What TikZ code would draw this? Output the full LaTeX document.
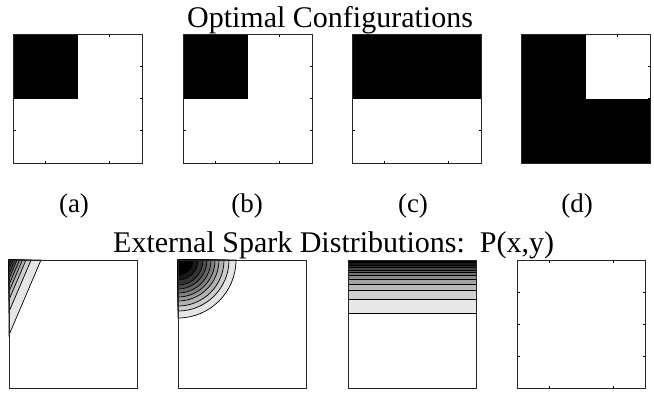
\documentclass[tikz,border=0pt]{standalone}
\usepackage{fontspec}
\setmainfont{Liberation Serif}

% small inward ticks on a square plot frame: x, y, size
\newcommand{\boxticks}[3]{%
  \foreach \f in {0.25,0.75} {
    \draw[boxtick] (#1+\f*#3,#2) -- +(0,2.5);
    \draw[boxtick] (#1+\f*#3,#2+#3) -- +(0,-2.5);
  }
  \foreach \f in {0.25,0.5,0.75} {
    \draw[boxtick] (#1,#2+\f*#3) -- +(2.5,0);
    \draw[boxtick] (#1+#3,#2+\f*#3) -- +(-2.5,0);
  }}

\begin{document}
\begin{tikzpicture}[x=1pt,y=-1pt,
  plotframe/.style={draw=black!85,line width=1pt},
  boxtick/.style={line width=0.6pt},
  isoline/.style={line width=0.7pt},
  headtext/.style={font=\fontsize{30}{32}\selectfont,anchor=base,inner sep=0pt},
  tagtext/.style={font=\fontsize{27}{29}\selectfont,anchor=base,inner sep=0pt}]
  \useasboundingbox[fill=white] (0,0) rectangle (654,392);

  % optimal configurations
  \node[headtext] (optTitle) at (330,27) {Optimal Configurations};
  \fill (13,34) rectangle (78,99);
  \fill (183,34) rectangle (248,99);
  \fill (352,34) rectangle (481,99);
  \fill (521,34) rectangle (650,163);
  \fill[white] (586,34) rectangle (650,99);
  \foreach \x in {13,183,352,521} {
    \boxticks{\x}{34}{129}
    \draw[plotframe] (\x,34) rectangle +(129,129);
  }

  \node[tagtext] (tagA) at (74,212) {(a)};
  \node[tagtext] (tagB) at (247,212) {(b)};
  \node[tagtext] (tagC) at (413,212) {(c)};
  \node[tagtext] (tagD) at (577,212) {(d)};

  % external spark distributions
  \node[headtext,anchor=base west] (sparkTitle) at (113,252)
    {External Spark Distributions:\ \ P(x,y)};

  % (a) oblique front from the corner
  \foreach \s [count=\k] in {1,0.69,0.53,0.42,0.33,0.25,0.19,0.125,0.06} {
    \pgfmathtruncatemacro\g{\k*10}
    \filldraw[isoline,fill=black!\g] (9,260) -- (9+32*\s,260) -- (9,260+75*\s) -- cycle;
  }
  % (b) circular spot in the corner
  \foreach \r [count=\k] in {58,51,46,41,37,33,29,25,20,15} {
    \pgfmathtruncatemacro\g{\k*10}
    \filldraw[isoline,fill=black!\g] (178,260) -- (178+\r,260)
      arc[start angle=0,end angle=90,radius=\r] -- cycle;
  }
  % (c) bands along the top edge
  \foreach \d [count=\k] in {53,39,30,24,19.5,15.5,12.5,10,7.5,5,2.5} {
    \pgfmathtruncatemacro\g{\k*9}
    \filldraw[isoline,fill=black!\g] (348,260) rectangle (476,260+\d);
  }
  % (d) uniform
  \boxticks{517}{260}{128}
  \foreach \x in {9,178,348,517}
    \draw[plotframe] (\x,260) rectangle +(128,128);
\end{tikzpicture}
\end{document}
